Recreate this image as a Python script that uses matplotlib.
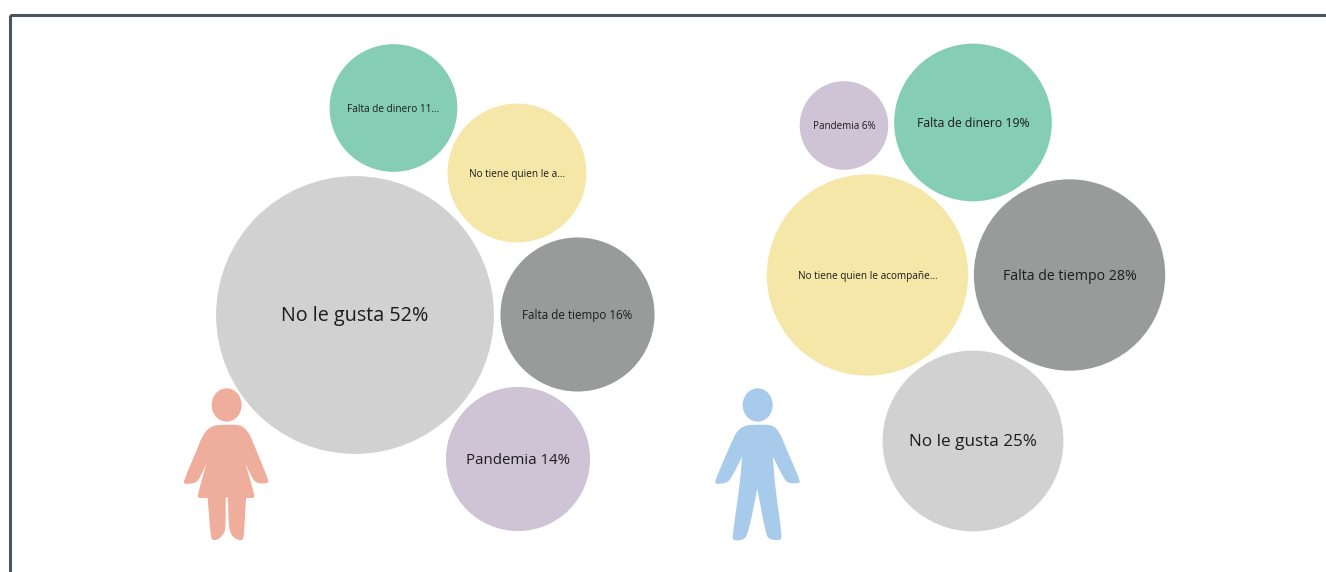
import numpy as np
import matplotlib
matplotlib.use("Agg")
import matplotlib.pyplot as plt
from matplotlib.patches import Circle, Ellipse, PathPatch, Rectangle
from matplotlib.path import Path

plt.rcParams['font.family'] = ['Open Sans', 'DejaVu Sans']

# Data: women
women_labels = ["No le gusta 52%", "Falta de tiempo 16%", "Pandemia 14%", "Falta de dinero 11...", "No tiene quien le a..."]
women_values = [52, 16, 14, 11, 13]
# Data: men
men_labels = ["No le gusta 25%", "Falta de tiempo 28%", "Falta de dinero 19%", "Pandemia 6%", "No tiene quien le acompañe..."]
men_values = [25, 28, 19, 6, 31]

# Layout and style
women_x = [355, 577.5, 518, 393.5, 517]
women_y = [315, 314.5, 459, 108, 173]
women_fs = [14.2, 8.4, 10.8, 7.2, 7.2]
men_x = [973, 1069.5, 973, 844, 867.5]
men_y = [441, 275, 122.5, 125.5, 275]
men_fs = [12.3, 10.2, 8.8, 7.1, 7.2]
women_scale = 371
men_scale = 327
C_GREY, C_DARK, C_PURPLE, C_GREEN, C_YELLOW = "#D1D1D1", "#999B9B", "#CFC3D6", "#85CDB5", "#F5E7A8"
women_colors = [C_GREY, C_DARK, C_PURPLE, C_GREEN, C_YELLOW]
men_colors = [C_GREY, C_DARK, C_GREEN, C_PURPLE, C_YELLOW]

fig = plt.figure(figsize=(13.26, 5.72), dpi=100)
ax = fig.add_axes([0, 0, 1, 1])
ax.set_xlim(0, 1326)
ax.set_ylim(572, 0)
ax.axis("off")

# frame
ax.add_patch(Rectangle((9.5, 14.5), 1400, 700, fill=False, ec="#4B5560", lw=2.2, joinstyle="miter"))

def bubbles(xs, ys, vals, scale, cols, labs, fss):
    for x, y, v, c, l, fs in zip(xs, ys, vals, cols, labs, fss):
        ax.add_patch(Circle((x, y), np.sqrt(scale * v), fc=c, ec="none"))
        ax.text(x, y + 1.2, l, ha="center", va="center", fontsize=fs, color="#1c1c1c")

bubbles(women_x, women_y, women_values, women_scale, women_colors, women_labels, women_fs)
bubbles(men_x, men_y, men_values, men_scale, men_colors, men_labels, men_fs)

def chaikin(p, n=2):
    for _ in range(n):
        q = np.roll(p, -1, axis=0)
        p = np.column_stack([0.75 * p + 0.25 * q, 0.25 * p + 0.75 * q]).reshape(-1, 2)
    return p

def icon(outline, head, x0, y0, color):
    pts = chaikin(np.array(outline, float)) / 3 + [x0, y0]
    pts = np.vstack([pts, pts[0]])
    codes = [Path.MOVETO] + [Path.LINETO] * (len(pts) - 2) + [Path.CLOSEPOLY]
    ax.add_patch(PathPatch(Path(pts, codes), fc=color, ec=color, lw=1.0, joinstyle="round"))
    ax.add_patch(Ellipse((x0 + head[0] / 3, y0 + head[1] / 3), head[2] * 2 / 3, head[3] * 2 / 3, fc=color, ec="none"))

woman = [(170, 166), (130, 168), (108, 185), (92, 215), (86, 232), (42, 335), (46, 340), (72, 338), (86, 328),
         (120, 250), (120, 250), (120, 250), (84, 378), (88, 382), (115, 382), (115, 382), (124, 500), (130, 510), (146, 505), (160, 490), (165, 470),
         (165, 381), (165, 381), (176, 381), (176, 381), (178, 470), (186, 495), (200, 506), (216, 510), (220, 495), (226, 382), (226, 382),
         (250, 382), (252, 376), (215, 250), (215, 250), (215, 250), (250, 328), (264, 338), (292, 338), (294, 332), (250, 225),
         (238, 195), (220, 172), (200, 166)]
man = [(172, 166), (135, 168), (112, 185), (98, 215), (90, 232), (46, 335), (50, 340), (74, 338), (90, 328),
       (129, 250), (129, 250), (129, 250), (122, 340), (99, 500), (102, 509), (125, 509), (142, 495), (172, 345), (172, 345), (200, 495),
       (212, 507), (240, 509), (244, 498), (222, 340), (216, 250), (216, 250), (216, 250), (255, 328), (268, 338), (296, 338), (298, 332),
       (252, 225), (240, 195), (224, 172), (204, 166)]
icon(woman, (170, 105, 45, 50), 170, 370, "#EFAE9B")
icon(man, (173, 105, 45, 50), 700, 370, "#A8CBEB")

fig.savefig("out.png", dpi=100)
